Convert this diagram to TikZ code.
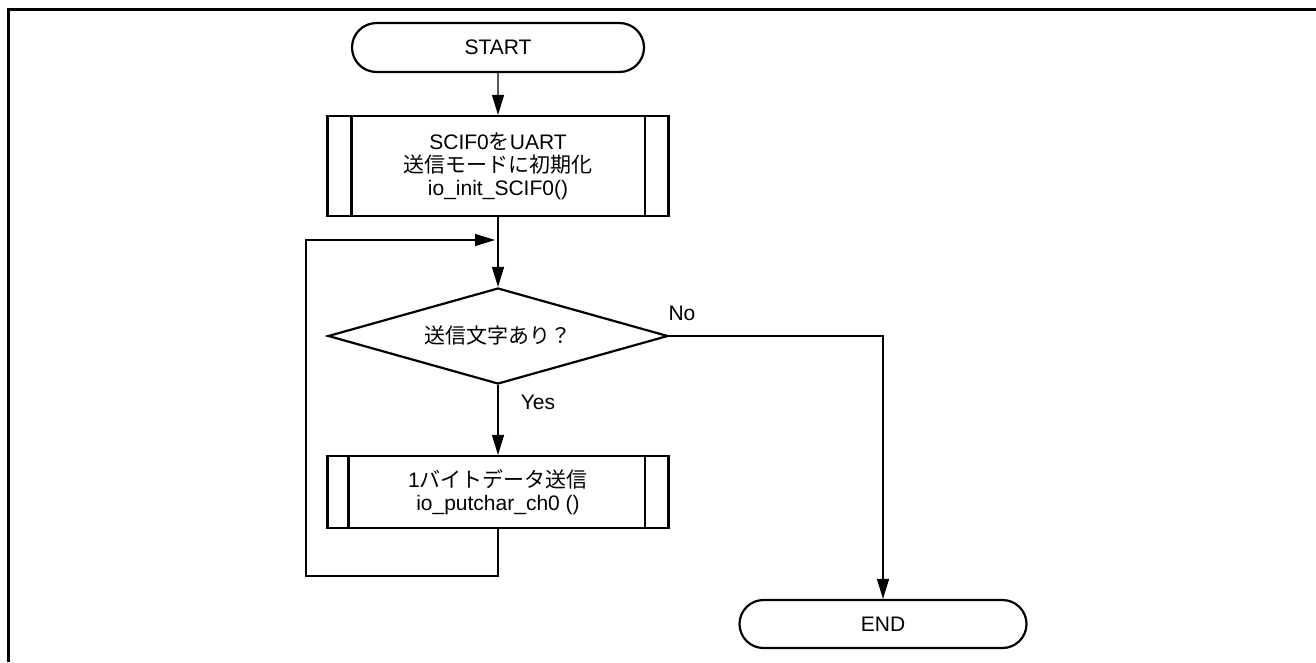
\documentclass[tikz,border=0pt]{standalone}
\usepackage{fontspec}
\setmainfont{Liberation Sans}
\newfontfamily\cjk{Noto Sans CJK JP}
\usepackage{tikz}
\usetikzlibrary{shapes.geometric,
	shapes.misc,
	arrows.meta,
	positioning}
\tikzstyle{term}=[draw, rounded rectangle, line width=2.2pt, minimum width=292pt, minimum height=49pt, inner sep=0]
\tikzstyle{sub}=[draw, rectangle, line width=2.2pt, minimum width=341pt, inner sep=0, align=center]
\tikzstyle{dec}=[draw, diamond, line width=2.2pt, minimum width=340pt, minimum height=96pt, aspect=3.5, inner sep=0]
\tikzstyle{lbl}=[inner sep=0]
\tikzstyle{line}=[line width=1.2pt]
\tikzstyle{arr}=[line width=1.2pt, -{Triangle[length=20pt,width=12pt]}]

\begin{document}
\begin{tikzpicture}[x=1pt, y=-1pt, every node/.style={font=\fontsize{21}{23}\selectfont}]
                \useasboundingbox (0,0) rectangle (1316,662);
                \draw[line width=3pt] (8,662) -- (8,9) -- (1316,9);
                % nodes
                \node[term] (start) at (498,47.5) {START};
                \node[sub, minimum height=100pt] (init) at (498,166) {SCIF0{\cjk を}UART\\{\cjk 送信モードに初期化}\\io\_init\_SCIF0()};
                \node[dec] (check) at (498,336) {\cjk 送信文字あり？};
                \node[sub, minimum height=72pt] (send) at (498,492) {1{\cjk バイトデータ送信}\\io\_putchar\_ch0 ()};
                \node[term, minimum width=287pt, minimum height=48pt] (end) at (883,624) {END};
                \node[lbl] (no) at (682,313) {No};
                \node[lbl] (yes) at (538,402) {Yes};
                \draw[line width=2.2pt] ([xshift=25pt]init.north west) -- ([xshift=25pt]init.south west)
                    ([xshift=-25pt]init.north east) -- ([xshift=-25pt]init.south east);
                \draw[line width=2.2pt] ([xshift=22pt]send.north west) -- ([xshift=22pt]send.south west)
                    ([xshift=-25pt]send.north east) -- ([xshift=-25pt]send.south east);
                % connectors
                \coordinate (join) at (498,240);
                \coordinate (back) at (306,576);
                \draw[arr] (start) -- (init);
                \draw[arr] (init) -- (check);
                \draw[arr] (check) -- (send);
                \draw[arr] (send.south) |- (back) |- ([xshift=-3pt]join);
                \draw[arr] (check.east) -| (end.north);
            \end{tikzpicture}
\end{document}
